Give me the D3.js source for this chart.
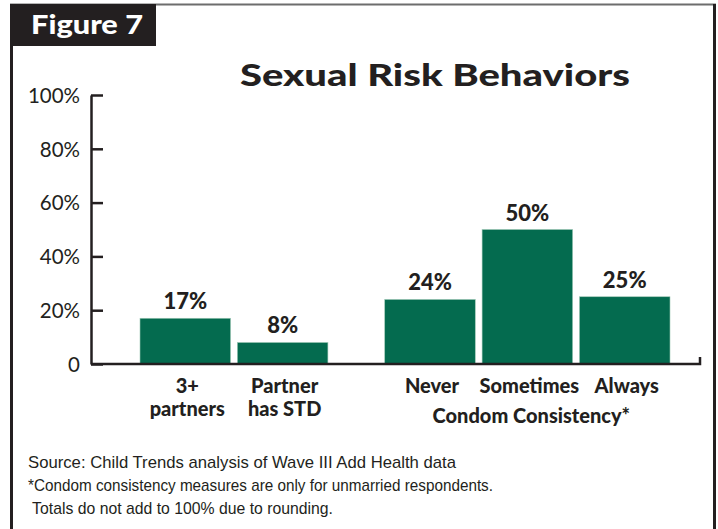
<!DOCTYPE html>
<html>
<head>
<meta charset="utf-8">
<script src="https://cdn.jsdelivr.net/npm/d3@7"></script>
<style>
  html, body { margin: 0; padding: 0; background: #fff; }
  svg { display: block; }
</style>
</head>
<body>
<svg id="chart" width="718" height="529"></svg>
<script>
// Sexual risk behaviors, Wave III Add Health
const categories = ["3+ partners", "Partner has STD", "Never", "Sometimes", "Always"];
const categoryLines = [["3+", "partners"], ["Partner", "has STD"], ["Never"], ["Sometimes"], ["Always"]];
const groups = ["risk", "risk", "condom", "condom", "condom"];
const values = [17, 8, 24, 50, 25];
const yTicks = [0, 20, 40, 60, 80, 100];
const yTickLabels = ["0", "20%", "40%", "60%", "80%", "100%"];
const groupLabel = "Condom Consistency*";
const title = "Sexual Risk Behaviors";
const figureLabel = "Figure 7";
const notes = [
  "Source: Child Trends analysis of Wave III Add Health data",
  "*Condom consistency measures are only for unmarried respondents.",
  " Totals do not add to 100% due to rounding."
];

const ink = "#231f20";
const green = "#046b4f";
const svg = d3.select("#chart");

// Frame and header tab
svg.append("line").attr("x1", 10).attr("x2", 716).attr("y1", 4.5).attr("y2", 4.5)
  .attr("stroke", "#6d6d6d").attr("stroke-width", 2);
svg.append("line").attr("x1", 11.5).attr("x2", 11.5).attr("y1", 4).attr("y2", 529)
  .attr("stroke", ink).attr("stroke-width", 3);
svg.append("line").attr("x1", 714.5).attr("x2", 714.5).attr("y1", 4).attr("y2", 529)
  .attr("stroke", ink).attr("stroke-width", 3);
svg.append("rect").attr("x", 10).attr("y", 4).attr("width", 146).attr("height", 42).attr("fill", ink);
svg.append("text").attr("x", 31).attr("y", 34)
  .attr("font-family", "Lato").attr("font-weight", 900).attr("font-size", 26)
  .attr("fill", "#fff").attr("textLength", 112).attr("lengthAdjust", "spacingAndGlyphs")
  .text(figureLabel);

// Title
svg.append("text").attr("x", 435).attr("y", 86).attr("text-anchor", "middle")
  .attr("font-family", "Lato").attr("font-weight", 900).attr("font-size", 30)
  .attr("fill", ink).attr("textLength", 390).attr("lengthAdjust", "spacingAndGlyphs")
  .text(title);

// Scales
const y = d3.scaleLinear().domain([0, 100]).range([364, 95]);
const groupGap = 50;
const x = d3.scaleBand().domain(categories).range([140, 620]).paddingInner(0.07).paddingOuter(0);
const xPos = (d, i) => x(d) + (groups[i] === "condom" ? groupGap : 0);

// Y axis with inward ticks
const yAxis = d3.axisLeft(y).tickValues(yTicks)
  .tickFormat((d, i) => yTickLabels[i]).tickSize(-12).tickSizeOuter(0).tickPadding(11);
const gy = svg.append("g").attr("transform", "translate(91,0)").call(yAxis);
gy.select(".domain").attr("stroke", ink).attr("stroke-width", 2.5);
gy.selectAll(".tick line").attr("stroke", ink).attr("stroke-width", 2.5);
gy.selectAll(".tick text").attr("font-family", "Lato").attr("font-size", 20.5)
  .attr("fill", ink).attr("dy", "0.36em");

// Bars
svg.append("g").selectAll("rect").data(values).join("rect")
  .attr("x", (d, i) => xPos(categories[i], i))
  .attr("y", d => y(d))
  .attr("width", x.bandwidth())
  .attr("height", d => y(0) - y(d))
  .attr("fill", green)
  .attr("stroke", "#9fc9b6").attr("stroke-width", 0.6);

// Baseline with end tick
const xEnd = 700;
svg.append("path")
  .attr("d", `M91,${y(0)}H${xEnd}V${y(0) - 7}`)
  .attr("fill", "none").attr("stroke", ink).attr("stroke-width", 2.5);

// Value labels
svg.append("g").selectAll("text").data(values).join("text")
  .attr("x", (d, i) => xPos(categories[i], i) + x.bandwidth() / 2)
  .attr("y", d => y(d) - 9)
  .attr("text-anchor", "middle")
  .attr("font-family", "Lato").attr("font-weight", 900).attr("font-size", 22)
  .attr("fill", ink)
  .text(d => d + "%");

// Category labels
const catG = svg.append("g").selectAll("text").data(categories).join("text")
  .attr("x", (d, i) => xPos(d, i) + x.bandwidth() / 2 + 2)
  .attr("y", 393)
  .attr("text-anchor", "middle")
  .attr("font-family", "Lato").attr("font-weight", 900).attr("font-size", 20)
  .attr("fill", ink);
catG.selectAll("tspan").data((d, i) => categoryLines[i]).join("tspan")
  .attr("x", function () { return d3.select(this.parentNode).attr("x"); })
  .attr("dy", (d, j) => j === 0 ? 0 : 23)
  .text(d => d);

// Group label under the condom bars
const condomIdx = groups.map((g, i) => g === "condom" ? i : -1).filter(i => i >= 0);
const gx0 = xPos(categories[condomIdx[0]], condomIdx[0]);
const gx1 = xPos(categories[condomIdx[condomIdx.length - 1]], condomIdx[condomIdx.length - 1]) + x.bandwidth();
svg.append("text").attr("x", (gx0 + gx1) / 2 + 4).attr("y", 423).attr("text-anchor", "middle")
  .attr("font-family", "Lato").attr("font-weight", 900).attr("font-size", 20)
  .attr("fill", ink).text(groupLabel);

// Notes
const noteWidths = [428, 465, 305];
svg.append("g").selectAll("text").data(notes).join("text")
  .attr("x", 28)
  .attr("y", (d, i) => 468 + i * 23)
  .attr("font-family", "Liberation Sans Narrow, Liberation Sans, sans-serif")
  .attr("font-size", 17).attr("fill", ink)
  .attr("xml:space", "preserve").style("white-space", "pre")
  .attr("textLength", (d, i) => noteWidths[i]).attr("lengthAdjust", "spacingAndGlyphs")
  .text(d => d);
</script>
</body>
</html>
